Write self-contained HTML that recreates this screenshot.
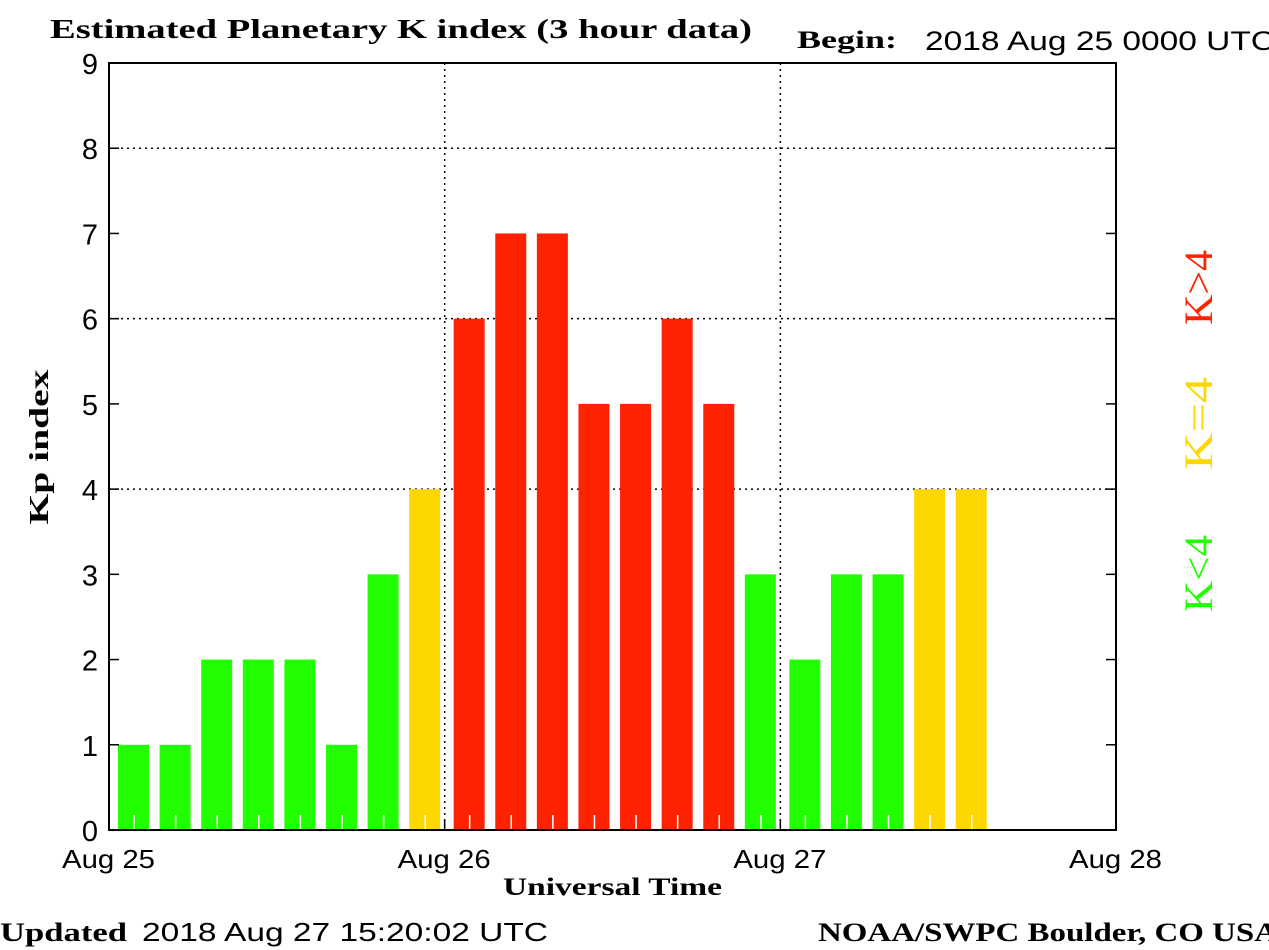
<!DOCTYPE html>
<html><head><meta charset="utf-8"><style>
html,body{margin:0;padding:0;background:#fff;width:1269px;height:950px;overflow:hidden}
svg{display:block}
</style></head><body>
<svg id="chart" width="1269" height="950" xmlns="http://www.w3.org/2000/svg">
<text x="50" y="38" textLength="702" lengthAdjust="spacingAndGlyphs" font-family="Liberation Serif, serif" font-weight="bold" font-size="27">Estimated Planetary K index (3 hour data)</text>
<text x="797" y="48" textLength="100" lengthAdjust="spacingAndGlyphs" font-family="Liberation Serif, serif" font-weight="bold" font-size="25">Begin:</text>
<text x="925" y="50" textLength="350" lengthAdjust="spacingAndGlyphs" font-family="Liberation Sans, sans-serif" font-size="27">2018 Aug 25 0000 UTC</text>
<g id="grid"></g>
<g id="bars"></g>
<g id="axes"></g>
<text transform="translate(48,447) rotate(-90)" text-anchor="middle" textLength="155" lengthAdjust="spacingAndGlyphs" font-family="Liberation Serif, serif" font-weight="bold" font-size="27">Kp index</text>
<text x="503" y="895" textLength="219" lengthAdjust="spacingAndGlyphs" font-family="Liberation Serif, serif" font-weight="bold" font-size="25">Universal Time</text>
<text x="0" y="941" textLength="127" lengthAdjust="spacingAndGlyphs" font-family="Liberation Serif, serif" font-weight="bold" font-size="26">Updated</text>
<text x="142" y="941" textLength="406" lengthAdjust="spacingAndGlyphs" font-family="Liberation Sans, sans-serif" font-size="26">2018 Aug 27 15:20:02 UTC</text>
<text x="818" y="941" textLength="460" lengthAdjust="spacingAndGlyphs" font-family="Liberation Serif, serif" font-weight="bold" font-size="26">NOAA/SWPC Boulder, CO USA</text>
<text transform="translate(1212,612) rotate(-90)" textLength="77" lengthAdjust="spacingAndGlyphs" fill="#22ff00" font-family="Liberation Serif, serif" font-size="40">K&lt;4</text>
<text transform="translate(1212,470) rotate(-90)" textLength="93" lengthAdjust="spacingAndGlyphs" fill="#ffd700" font-family="Liberation Serif, serif" font-size="40">K=4</text>
<text transform="translate(1212,325) rotate(-90)" textLength="75" lengthAdjust="spacingAndGlyphs" fill="#ff2200" font-family="Liberation Serif, serif" font-size="40">K&gt;4</text>
</svg>
<script>
const kpValues = [1,1,2,2,2,1,3,4, 6,7,7,5,5,6,5,3, 2,3,3,4,4];
const dayLabels = ["Aug 25","Aug 26","Aug 27","Aug 28"];
const yTicks = [0,1,2,3,4,5,6,7,8,9];
const NS="http://www.w3.org/2000/svg";
const L=109,R=1116,T=63,B=830;
const slotW=41.6;
const dayW=(R-L)/3;
const y=v=>B-(v/9)*(B-T);
const x=i=>L+Math.floor(i/8)*dayW+(i%8)*slotW;
function mk(tag,attrs,parent){const e=document.createElementNS(NS,tag);for(const k in attrs)e.setAttribute(k,attrs[k]);parent.appendChild(e);return e;}
const grid=document.getElementById('grid'),bars=document.getElementById('bars'),axes=document.getElementById('axes');
[4,6,8].forEach(v=>{const l=mk('line',{x1:L,x2:R,y1:y(v),y2:y(v),stroke:'#000','stroke-width':1.5,'stroke-dasharray':'2,4'},grid);

});
[1,2].forEach(d=>{const l=mk('line',{x1:L+d*dayW,x2:L+d*dayW,y1:T,y2:B,stroke:'#000','stroke-width':1.5,'stroke-dasharray':'2,4'},grid);

});
kpValues.forEach((v,i)=>{const c=v<4?'#22ff00':(v==4?'#ffd700':'#ff2200');
const r=mk('rect',{x:x(i)+9,y:y(v),width:31,height:B-y(v),fill:c},bars);


const t=mk('line',{x1:x(i)+25,x2:x(i)+25,y1:B-15,y2:B,stroke:'#fff','stroke-width':1.5},bars);

});
const frame=mk('rect',{x:L,y:T,width:R-L,height:B-T,fill:'none',stroke:'#000','stroke-width':2},axes);


yTicks.forEach(v=>{
mk('line',{x1:L,x2:L+10,y1:y(v),y2:y(v),stroke:'#000','stroke-width':1.5},axes);
mk('line',{x1:R-10,x2:R,y1:y(v),y2:y(v),stroke:'#000','stroke-width':1.5},axes);
const t=mk('text',{x:L-11,y:y(v)+11,'text-anchor':'end','font-family':'Liberation Sans, sans-serif','font-size':29},axes);
t.textContent=v;

});
dayLabels.forEach((d,i)=>{
mk('line',{x1:L+i*dayW,x2:L+i*dayW,y1:B-10,y2:B,stroke:'#000','stroke-width':1.5},axes);
const t=mk('text',{x:L+i*dayW-47,y:B+38,textLength:93,lengthAdjust:'spacingAndGlyphs','font-family':'Liberation Sans, sans-serif','font-size':26},axes);
t.textContent=d;

});
</script>
</body></html>
